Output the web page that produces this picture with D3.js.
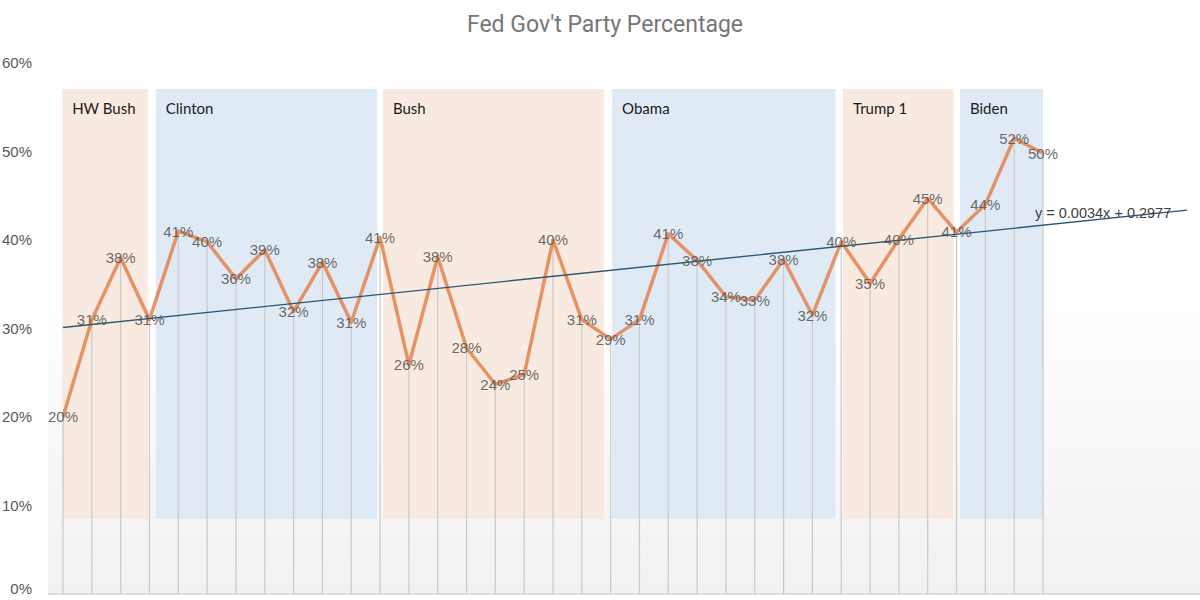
<!DOCTYPE html>
<html>
<head>
<meta charset="utf-8">
<script src="https://cdn.jsdelivr.net/npm/d3@7"></script>
<style>
	body { margin: 0; background: #fff; }
	svg { display: block; }
</style>
</head>
<body>
<svg width="1200" height="600"></svg>
<script>

var values = [0.20, 0.31, 0.38, 0.31, 0.41, 0.398, 0.356, 0.389, 0.319, 0.375, 0.307, 0.403,
	0.259, 0.381, 0.278, 0.237, 0.248, 0.40, 0.31, 0.288, 0.31, 0.407, 0.377, 0.336, 0.332,
	0.378, 0.315, 0.398, 0.351, 0.401, 0.447, 0.409, 0.44, 0.515, 0.498];

var labels = ["20%", "31%", "38%", "31%", "41%", "40%", "36%", "39%", "32%", "38%", "31%", "41%",
	"26%", "38%", "28%", "24%", "25%", "40%", "31%", "29%", "31%", "41%", "38%", "34%", "33%",
	"38%", "32%", "40%", "35%", "40%", "45%", "41%", "44%", "52%", "50%"];

// presidencies, in point-index units
var terms = ["HW Bush", "Clinton", "Bush", "Obama", "Trump 1", "Biden"];
var termStart = [-0.03, 3.22, 11.1, 19.05, 27.06, 31.12];
var termEnd = [2.95, 10.9, 18.77, 26.8, 30.9, 34];
var termParty = ["R", "D", "R", "D", "R", "D"];

var yTicks = [0, 0.1, 0.2, 0.3, 0.4, 0.5, 0.6];

var trendSlope = 0.0034,
	trendIntercept = 0.2977,
	trendForward = 5;

var svg, x, y, defs, grad, plot;

svg = d3.select('body svg');

x = d3.scaleLinear().domain([0, values.length - 1]).range([63, 1043]);
y = d3.scaleLinear().domain([0, 0.6]).range([594, 63]);

/*
	plot background
*/
defs = svg.append('defs');
grad = defs.append('linearGradient').attr('id', 'bg').attr('x1', 0).attr('y1', 0).attr('x2', 0).attr('y2', 1);
grad.append('stop').attr('offset', '0%').attr('stop-color', '#ffffff');
grad.append('stop').attr('offset', '45%').attr('stop-color', '#ffffff');
grad.append('stop').attr('offset', '100%').attr('stop-color', '#f1f1f1');

svg.append('rect')
	.attr('x', 48)
	.attr('y', y(0.6))
	.attr('width', 1200 - 48)
	.attr('height', y(0) - y(0.6))
	.style('fill', 'url(#bg)');

/*
	presidency bands
*/
plot = svg.append('g');

plot.selectAll('rect.term').data(terms).enter().append('rect')
	.classed('term', true)
	.attr('x', function (d, i) { return x(termStart[i]); })
	.attr('y', 89)
	.attr('width', function (d, i) { return x(termEnd[i]) - x(termStart[i]); })
	.attr('height', 519 - 89)
	.style('fill', function (d, i) { return termParty[i] === 'R' ? '#f8eae0' : '#e0eaf5'; });

plot.selectAll('text.term').data(terms).enter().append('text')
	.classed('term', true)
	.attr('x', function (d, i) { return x(termStart[i]) + 10; })
	.attr('y', 114)
	.style('font-family', 'Lato, "Open Sans", sans-serif')
	.style('font-size', '15px')
	.style('fill', '#1a1a1a')
	.text(function (d) { return d; });

/*
	drop lines + axis line
*/
plot.selectAll('line.drop').data(values).enter().append('line')
	.classed('drop', true)
	.attr('x1', function (d, i) { return x(i); })
	.attr('x2', function (d, i) { return x(i); })
	.attr('y1', function (d) { return y(d); })
	.attr('y2', y(0))
	.style('stroke', '#c9c9c9')
	.style('stroke-width', 1.2);

svg.append('line')
	.attr('x1', 48)
	.attr('x2', 1200)
	.attr('y1', y(0))
	.attr('y2', y(0))
	.style('stroke', '#d4d4d4')
	.style('stroke-width', 1.5);

/*
	y axis
*/
var yAxis = svg.append('g')
	.attr('transform', 'translate(48,0)')
	.call(d3.axisLeft(y).tickValues(yTicks).tickFormat(d3.format('.0%')).tickSize(0).tickPadding(16));

yAxis.select('.domain').remove();
yAxis.selectAll('text')
	.style('font-family', '"Liberation Sans", Arial, sans-serif')
	.style('font-size', '15px')
	.style('fill', '#595959');

// bottom label sits on the page edge, pull it up a little
yAxis.selectAll('text').filter(function (d) { return d === 0; }).attr('dy', '-0.05em');

/*
	series line
*/
svg.append('path')
	.datum(values)
	.attr('d', d3.line().x(function (d, i) { return x(i); }).y(function (d) { return y(d); }))
	.style('fill', 'none')
	.style('stroke', '#e2834f')
	.style('stroke-opacity', 0.85)
	.style('stroke-width', 3.5)
	.style('stroke-linejoin', 'round');

/*
	trend line
*/
var trendIdx = d3.range(0, values.length + trendForward);

svg.append('path')
	.datum([trendIdx[0], trendIdx[trendIdx.length - 1]])
	.attr('d', d3.line().x(function (d) { return x(d); }).y(function (d) { return y(trendSlope * (d + 1) + trendIntercept); }))
	.style('fill', 'none')
	.style('stroke', '#2b5874')
	.style('stroke-width', 1.4);

svg.append('text')
	.attr('x', 1035)
	.attr('y', 218)
	.style('font-family', '"Liberation Sans", Arial, sans-serif')
	.style('font-size', '14.5px')
	.style('fill', '#404040')
	.text('y = ' + trendSlope.toFixed(4) + 'x + ' + trendIntercept.toFixed(4));

/*
	data labels
*/
svg.selectAll('text.lbl').data(values).enter().append('text')
	.classed('lbl', true)
	.attr('x', function (d, i) { return x(i); })
	.attr('y', function (d) { return y(d); })
	.attr('dy', '0.36em')
	.attr('text-anchor', 'middle')
	.style('font-family', '"Liberation Sans", Arial, sans-serif')
	.style('font-size', '15px')
	.style('fill', '#585858')
	.style('fill-opacity', 0.9)
	.text(function (d, i) { return labels[i]; });

/*
	title
*/
svg.append('text')
	.attr('x', 605)
	.attr('y', 32)
	.attr('text-anchor', 'middle')
	.style('font-family', '"Liberation Sans Narrow", "Roboto", sans-serif')
	.style('font-size', '23px')
	.style('fill', '#767676')
	.text("Fed Gov't Party Percentage");

</script>
</body>
</html>
